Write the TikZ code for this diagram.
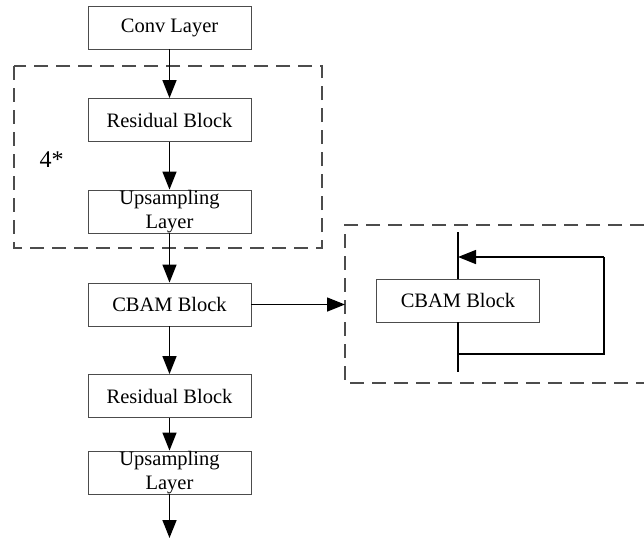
\documentclass[tikz,border=0pt]{standalone}
\usepackage{fontspec}
\setmainfont{Liberation Serif}
\usetikzlibrary{arrows.meta}
\begin{document}
\begin{tikzpicture}[x=1pt,y=-1pt,
  blk/.style={draw=black!70, line width=0.9pt, minimum width=163pt, minimum height=43pt, inner sep=0pt, font=\fontsize{20.5}{23.5}\selectfont, align=center},
  conn/.style={line width=1.5pt, -{Triangle[length=18pt,width=14pt]}},
  plain/.style={line width=1.5pt},
  dbox/.style={draw=black!70, line width=1.2pt, dash pattern=on 14pt off 8pt}]
\useasboundingbox (0,0) rectangle (644,542);
% main column
\node[blk] (conv) at (169.5,27.5) {Conv Layer};
\node[blk] (res1) at (169.5,120) {Residual Block};
\node[blk] (up1) at (169.5,211.5) {Upsampling\\Layer};
\node[blk] (cbam) at (169.5,304.5) {CBAM Block};
\node[blk] (res2) at (169.5,396) {Residual Block};
\node[blk] (up2) at (169.5,472.5) {Upsampling\\Layer};
\coordinate (endp) at (169.5,538);
% dashed group 1
\draw[dbox] (14,66) rectangle (322,248);
\node[font=\fontsize{24}{26}\selectfont] (rep) at (51.5,160) {4*};
% arrows
\draw[conn] (conv) -- (res1);
\draw[conn] (res1) -- (up1);
\draw[conn] (up1) -- (cbam);
\draw[conn] (cbam) -- (res2);
\draw[conn] (res2) -- (up2);
\draw[conn] (up2) -- (endp);
% dashed group 2 (open on the right)
\coordinate (dl) at (345,304.5);
\draw[dbox] (644,225) -- (345,225) -- (345,383) -- (644,383);
\draw[conn] (cbam.east) -- (dl);
% detail
\node[blk] (cb2) at (458,300.5) {CBAM Block};
\coordinate (vt) at (458,232);
\coordinate (vb) at (458,372);
\coordinate (lb) at (458,354);
\coordinate (lt) at (458,257);
\coordinate (rb) at (604,354);
\coordinate (rt) at (604,257);
\draw[plain] (vt) -- (cb2.north);
\draw[plain] (cb2.south) -- (vb);
\draw[plain] (lb) -- (rb) -- (rt);
\draw[conn] (rt) -- (lt);
\end{tikzpicture}
\end{document}
